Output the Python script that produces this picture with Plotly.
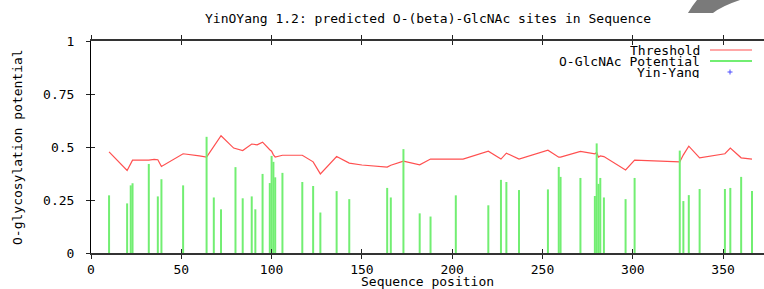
import plotly.graph_objects as go

# ---- data ----
potential_pos = [10, 20, 22, 23, 32, 37, 39, 51, 64, 68, 72, 80, 84, 89, 91, 95, 99, 100, 101, 102,
                 106, 117, 123, 127, 136, 143, 164, 166, 173, 182, 188, 202, 220, 227, 230, 237,
                 253, 259, 260, 271, 279, 280, 281, 282, 284, 296, 301, 326, 328, 331, 337, 351,
                 354, 360, 366]
potential_val = [0.272, 0.234, 0.319, 0.329, 0.42, 0.267, 0.348, 0.319, 0.548, 0.262, 0.206, 0.405,
                 0.258, 0.267, 0.206, 0.373, 0.330, 0.458, 0.430, 0.357, 0.378, 0.335, 0.316, 0.191,
                 0.292, 0.254, 0.307, 0.262, 0.49, 0.187, 0.172, 0.272, 0.225, 0.345, 0.335, 0.297,
                 0.300, 0.406, 0.359, 0.354, 0.269, 0.517, 0.326, 0.354, 0.262, 0.254, 0.354, 0.483,
                 0.245, 0.273, 0.302, 0.302, 0.307, 0.359, 0.292]

threshold_pos = [10, 20, 23, 32, 35, 37, 39, 51, 60, 64, 72, 79, 84, 89, 92, 95, 99, 100, 101, 102,
                 106, 117, 123, 127, 136, 143, 150, 164, 166, 173, 182, 188, 202, 206, 220, 227,
                 230, 237, 253, 259, 260, 271, 279, 280, 281, 282, 284, 296, 301, 326, 328, 331,
                 337, 351, 354, 360, 366]
threshold_val = [0.477, 0.389, 0.438, 0.438, 0.442, 0.44, 0.408, 0.468, 0.458, 0.452, 0.553, 0.495,
                 0.483, 0.514, 0.51, 0.523, 0.487, 0.48, 0.463, 0.453, 0.461, 0.461, 0.43, 0.373,
                 0.455, 0.424, 0.415, 0.405, 0.414, 0.433, 0.416, 0.443, 0.443, 0.443, 0.48, 0.443,
                 0.471, 0.443, 0.485, 0.452, 0.452, 0.479, 0.468, 0.474, 0.452, 0.458, 0.455, 0.392,
                 0.438, 0.43, 0.463, 0.504, 0.449, 0.468, 0.495, 0.449, 0.443]

yinyang_pos = []
yinyang_val = []

x_ticks = [0, 50, 100, 150, 200, 250, 300, 350]
y_ticks = [0, 0.25, 0.5, 0.75, 1]

title_text = "YinOYang 1.2: predicted O-(beta)-GlcNAc sites in Sequence"
legend_names = ["Threshold", "O-GlcNAc Potential", "Yin-Yang"]

# ---- style ----
FONT = "DejaVu Sans Mono"
FS = 13
RED = "#ff5050"
GREEN = "#72ee72"
BLUE = "#4a4aff"

W, H = 764, 289
L, R, T, B = 91, 0, 41, 36
PW, PH = W - L - R, H - T - B


def px(x):
    return (x - L) / PW


def py(y):
    return (H - B - y) / PH


# impulses from data
imp_x, imp_y = [], []
for p, v in zip(potential_pos, potential_val):
    imp_x += [p, p, None]
    imp_y += [0, v, None]

fig = go.Figure()
fig.add_trace(go.Scatter(x=threshold_pos, y=threshold_val, mode="lines",
                         line=dict(color=RED, width=1.2), name=legend_names[0], showlegend=False))
fig.add_trace(go.Scatter(x=imp_x, y=imp_y, mode="lines",
                         line=dict(color=GREEN, width=2), name=legend_names[1], showlegend=False))
fig.add_trace(go.Scatter(x=yinyang_pos, y=yinyang_val, mode="markers",
                         marker=dict(symbol="cross-thin", color=BLUE, size=6,
                                     line=dict(color=BLUE, width=1)),
                         name=legend_names[2], showlegend=False))

axis_common = dict(showgrid=False, zeroline=False, automargin=False,
                   tickfont=dict(family=FONT, size=FS, color="#000"))

fig.update_layout(
    width=W, height=H,
    margin=dict(l=L, r=R, t=T, b=B, pad=0),
    paper_bgcolor="white", plot_bgcolor="white",
    showlegend=False,
    xaxis=dict(range=[0, PW / 1.806], tickvals=x_ticks, ticks="outside", ticklen=4,
               tickcolor="#222", showline=True, linecolor="#333", linewidth=1.5,
               mirror="ticks", ticklabelstandoff=0, **axis_common),
    yaxis=dict(range=[0, 1], tickvals=y_ticks, ticks="outside", ticklen=4, tickcolor="#222",
               showline=True, linecolor="#000", linewidth=1, ticklabelstandoff=9,
               **axis_common),
    xaxis2=dict(overlaying="x", matches="x", range=[0, PW / 1.806], tickvals=x_ticks,
                ticks="inside", ticklen=4, tickcolor="#222", showticklabels=False,
                showgrid=False, zeroline=False, showline=False, side="bottom", mirror="ticks"),
    yaxis2=dict(overlaying="y", matches="y", range=[0, 1], tickvals=y_ticks, ticks="inside",
                ticklen=4, tickcolor="#222", showticklabels=False, showgrid=False,
                zeroline=False, showline=False, side="left"),
)
# dummy trace to activate overlay axes
fig.add_trace(go.Scatter(x=[None], y=[None], xaxis="x2", yaxis="y2", showlegend=False,
                         hoverinfo="skip"))

annots = [
    dict(text=title_text, x=0.5, y=py(18), xref="paper", yref="paper", showarrow=False,
         xanchor="center", yanchor="middle", font=dict(family=FONT, size=FS, color="#000")),
    dict(text="Sequence position", x=0.5, y=py(281.5), xref="paper", yref="paper",
         showarrow=False, xanchor="center", yanchor="middle", borderpad=0,
         font=dict(family=FONT, size=FS, color="#000")),
    dict(text="O-glycosylation potential", x=px(17), y=py(147), xref="paper", yref="paper",
         showarrow=False, xanchor="center", yanchor="middle", textangle=-90,
         font=dict(family=FONT, size=FS, color="#000")),
]
legend_y = [50, 61, 72]
for name, yy in zip(legend_names, legend_y):
    annots.append(dict(text=name, x=px(701), y=py(yy), xref="paper", yref="paper",
                       showarrow=False, xanchor="right", yanchor="middle", height=11,
                       borderpad=0, font=dict(family=FONT, size=FS, color="#000")))
fig.update_layout(annotations=annots)

shapes = [
    dict(type="line", xref="paper", yref="paper", x0=px(710), x1=px(752), y0=py(50), y1=py(50),
         line=dict(color=RED, width=1.2)),
    dict(type="line", xref="paper", yref="paper", x0=px(710), x1=px(752), y0=py(61), y1=py(61),
         line=dict(color=GREEN, width=2)),
    dict(type="line", xref="paper", yref="paper", x0=px(727.5), x1=px(732.5), y0=py(72), y1=py(72),
         line=dict(color=BLUE, width=1)),
    dict(type="line", xref="paper", yref="paper", x0=px(730), x1=px(730), y0=py(69.5), y1=py(74.5),
         line=dict(color=BLUE, width=1)),
    # gray decoration in top-right corner
    dict(type="path", xref="paper", yref="paper",
         path=(f"M {px(697)} {py(0)} L {px(740)} {py(0)} "
               f"Q {px(722)} {py(6)} {px(713)} {py(13)} L {px(688)} {py(13)} "
               f"Q {px(692)} {py(6)} {px(697)} {py(0)} Z"),
         fillcolor="#7a7a7a", line=dict(width=0)),
]
fig.update_layout(shapes=shapes)

fig.write_html("out.html", config={"displayModeBar": False},
               post_script="document.body.style.margin='0px';")
